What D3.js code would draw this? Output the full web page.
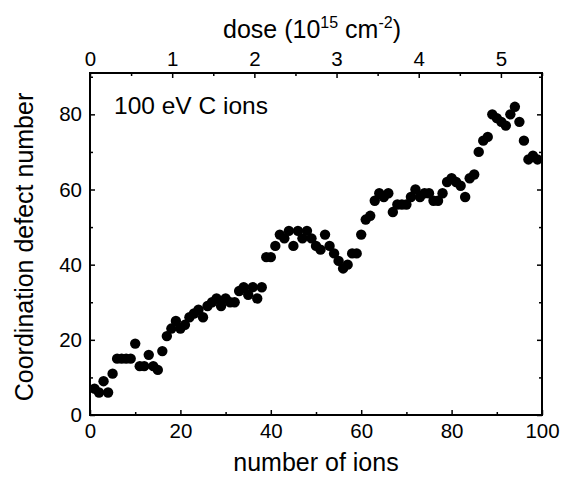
<!DOCTYPE html>
<html>
<head>
<meta charset="utf-8">
<script src="https://cdn.jsdelivr.net/npm/d3@7"></script>
<style>
  html, body { margin: 0; padding: 0; background: #fff; }
  svg text { font-family: "Liberation Sans", Arial, sans-serif; fill: #000; }
</style>
</head>
<body>
<svg id="chart" width="567" height="478"></svg>
<script>
// number of ions (x) and coordination defect number (y)
const ions = d3.range(1, 100);
const defects = [
  7, 6, 9, 6, 11, 15, 15, 15, 15, 19,
  13, 13, 16, 13, 12, 17, 21, 23, 25, 23,
  24, 26, 27, 28, 26, 29, 30, 31, 29, 31,
  30, 30, 33, 34, 32, 34, 31, 34, 42, 42,
  45, 48, 47, 49, 45, 49, 47, 49, 47, 45,
  44, 48, 45, 43, 41, 39, 40, 43, 43, 48,
  52, 53, 57, 59, 58, 59, 54, 56, 56, 56,
  58, 60, 58, 59, 59, 57, 57, 59, 62, 63,
  62, 61, 58, 63, 64, 70, 73, 74, 80, 79,
  78, 77, 80, 82, 78, 73, 68, 69, 68
];

const xTicks = [0, 20, 40, 60, 80, 100];
const yTicks = [0, 20, 40, 60, 80];
const doseTicks = [0, 1, 2, 3, 4, 5];

const svg = d3.select("#chart");
const M = { left: 90, right: 25, top: 73, bottom: 63 };
const W = 567, H = 478;

const x = d3.scaleLinear().domain([0, 100]).range([M.left, W - M.right]);
const y = d3.scaleLinear().domain([0, 91]).range([H - M.bottom, M.top]);
const xDose = d3.scaleLinear().domain([0, 5.5]).range([M.left, W - M.right]);

const fs = "20.5px";

// ticks (all pointing inside)
function styleAxis(g){
  g.select(".domain").remove();
  g.selectAll(".tick line").attr("stroke", "#000").attr("stroke-width", 1.5);
  g.selectAll(".tick text").style("font-size", fs);
}

// bottom
svg.append("g").attr("transform", `translate(0,${y(0)})`)
  .call(d3.axisBottom(x).tickValues(d3.range(0, 101, 10)).tickSize(-5).tickPadding(8)
    .tickFormat(d => xTicks.includes(d) ? d : ""))
  .call(styleAxis)
  .call(g => g.selectAll(".tick").filter(d => !xTicks.includes(d)).select("line").attr("y2", -3));

// top
svg.append("g").attr("transform", `translate(0,${M.top})`)
  .call(d3.axisTop(xDose).tickValues(d3.range(0, 5.51, 0.5)).tickSize(-5).tickPadding(7)
    .tickFormat(d => doseTicks.includes(d) ? d : ""))
  .call(styleAxis)
  .call(g => g.selectAll(".tick").filter(d => !doseTicks.includes(d)).select("line").attr("y2", 3));

// left
svg.append("g").attr("transform", `translate(${M.left},0)`)
  .call(d3.axisLeft(y).tickValues(d3.range(0, 91, 10)).tickSize(-5).tickPadding(8)
    .tickFormat(d => yTicks.includes(d) ? d : ""))
  .call(styleAxis)
  .call(g => g.selectAll(".tick").filter(d => !yTicks.includes(d)).select("line").attr("x2", 3));

// right
svg.append("g").attr("transform", `translate(${W - M.right},0)`)
  .call(d3.axisRight(y).tickValues(d3.range(0, 91, 10)).tickSize(-5).tickFormat(""))
  .call(styleAxis)
  .call(g => g.selectAll(".tick").filter(d => !yTicks.includes(d)).select("line").attr("x2", -3));

// frame
svg.append("rect")
  .attr("x", M.left).attr("y", M.top)
  .attr("width", W - M.left - M.right).attr("height", H - M.top - M.bottom)
  .attr("fill", "none").attr("stroke", "#000").attr("stroke-width", 2);

// points
svg.append("g")
  .selectAll("circle")
  .data(ions)
  .enter().append("circle")
  .attr("cx", (d, i) => x(d))
  .attr("cy", (d, i) => y(defects[i]))
  .attr("r", 5.2)
  .attr("fill", "#000");

// labels
svg.append("text")
  .attr("x", (M.left + W - M.right) / 2).attr("y", 471)
  .attr("text-anchor", "middle").style("font-size", "25px")
  .text("number of ions");

svg.append("text")
  .attr("transform", `translate(33,${(M.top + H - M.bottom) / 2 + 3}) rotate(-90)`)
  .attr("text-anchor", "middle").style("font-size", "25px")
  .text("Coordination defect number");

const doseTitle = svg.append("text")
  .attr("x", 312).attr("y", 38)
  .attr("text-anchor", "middle").style("font-size", "25px");
doseTitle.append("tspan").text("dose (10");
doseTitle.append("tspan").attr("dy", -10).style("font-size", "16px").text("15");
doseTitle.append("tspan").attr("dy", 10).text(" cm");
doseTitle.append("tspan").attr("dy", -10).style("font-size", "16px").text("-2");
doseTitle.append("tspan").attr("dy", 10).text(")");

svg.append("text")
  .attr("x", 114).attr("y", 114)
  .style("font-size", "24.5px")
  .text("100 eV C ions");
</script>
</body>
</html>
